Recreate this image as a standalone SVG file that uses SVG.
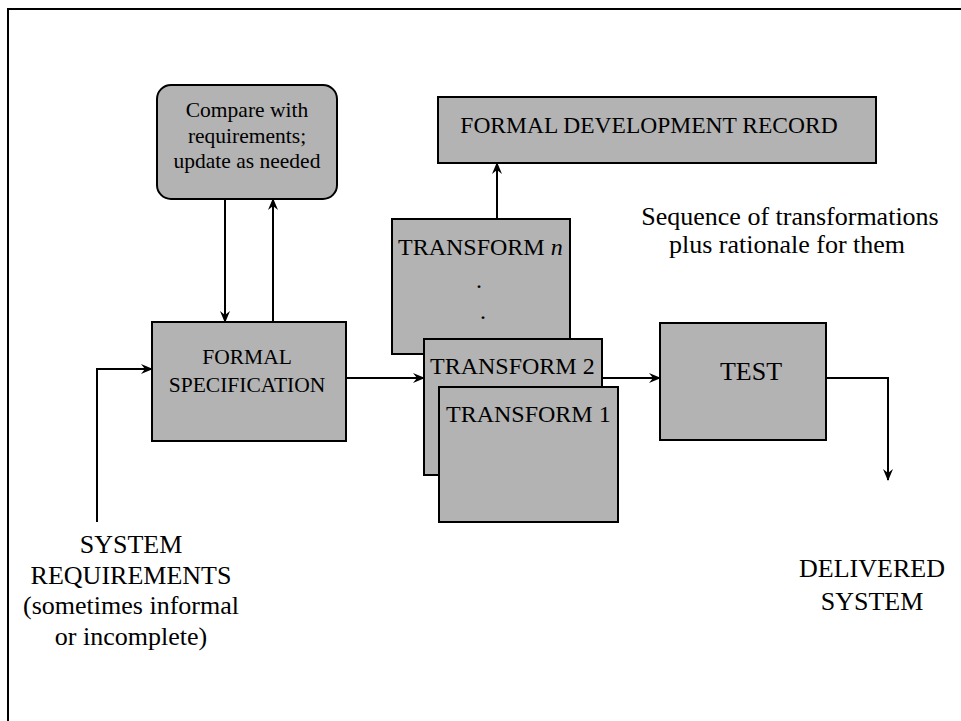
<svg xmlns="http://www.w3.org/2000/svg" width="961" height="721" viewBox="0 0 961 721">
  <style>
    .box { fill: #b3b3b3; stroke: #000; stroke-width: 2; }
    .line { fill: none; stroke: #000; stroke-width: 2; }
    text { font-family: "Liberation Serif", "Times New Roman", serif; fill: #000; }
    .lbl { font-size: 26px; text-anchor: middle; }
    .sm { font-size: 21.5px; text-anchor: middle; }
    .md { font-size: 24px; }
  </style>
  <defs>
    <marker id="arrow" viewBox="0 0 12 10" refX="11" refY="5" markerWidth="12" markerHeight="10" markerUnits="userSpaceOnUse" orient="auto">
      <path d="M0,0 L12,5 L0,10 L4,5 Z" fill="#000"/>
    </marker>
  </defs>

  <rect width="961" height="721" fill="#fff"/>
  <!-- page frame: top and left edges -->
  <path class="line" d="M8,721 V9 H961"/>

  <g id="compare">
    <rect class="box" x="157" y="85" width="180" height="114" rx="14"/>
    <text class="sm" x="247" y="117">Compare with</text>
    <text class="sm" x="247" y="143">requirements;</text>
    <text class="sm" x="247" y="168">update as needed</text>
  </g>

  <g id="formal-spec">
    <rect class="box" x="152" y="322" width="194" height="119"/>
    <text class="sm" x="247" y="364">FORMAL</text>
    <text class="sm" x="247" y="392">SPECIFICATION</text>
  </g>

  <g id="record">
    <rect class="box" x="438" y="97" width="438" height="66"/>
    <text x="649" y="133" font-size="23.5" text-anchor="middle">FORMAL DEVELOPMENT RECORD</text>
  </g>

  <g id="record-note">
    <text class="lbl" x="790" y="225">Sequence of transformations</text>
    <text class="lbl" x="787" y="253">plus rationale for them</text>
  </g>

  <g id="transform-n">
    <rect class="box" x="392" y="219" width="178" height="135"/>
    <text class="md" x="398" y="255">TRANSFORM <tspan font-style="italic">n</tspan></text>
    <text class="md" x="476" y="288">.</text>
    <text class="md" x="480" y="319">.</text>
  </g>

  <g id="transform-2">
    <rect class="box" x="424" y="339" width="178" height="136"/>
    <text class="md" x="430" y="374">TRANSFORM 2</text>
  </g>

  <g id="transform-1">
    <rect class="box" x="439" y="387" width="179" height="135"/>
    <text class="md" x="446" y="422">TRANSFORM 1</text>
  </g>

  <g id="test">
    <rect class="box" x="660" y="323" width="166" height="117"/>
    <text class="lbl" x="751" y="380">TEST</text>
  </g>

  <g id="requirements">
    <text class="lbl" x="131" y="553">SYSTEM</text>
    <text class="lbl" x="131" y="584">REQUIREMENTS</text>
    <text class="lbl" x="131" y="614">(sometimes informal</text>
    <text class="lbl" x="131" y="645">or incomplete)</text>
  </g>

  <g id="delivered">
    <text class="lbl" x="872" y="577">DELIVERED</text>
    <text class="lbl" x="872" y="610">SYSTEM</text>
  </g>

  <g id="connectors">
    <path class="line" d="M97,522 V369 H152" marker-end="url(#arrow)"/>
    <path class="line" d="M225,199 V322" marker-end="url(#arrow)"/>
    <path class="line" d="M273,322 V199" marker-end="url(#arrow)"/>
    <path class="line" d="M346,378 H424" marker-end="url(#arrow)"/>
    <path class="line" d="M497,219 V163" marker-end="url(#arrow)"/>
    <path class="line" d="M602,378 H660" marker-end="url(#arrow)"/>
    <path class="line" d="M826,378 H888 V480" marker-end="url(#arrow)"/>
  </g>
</svg>
